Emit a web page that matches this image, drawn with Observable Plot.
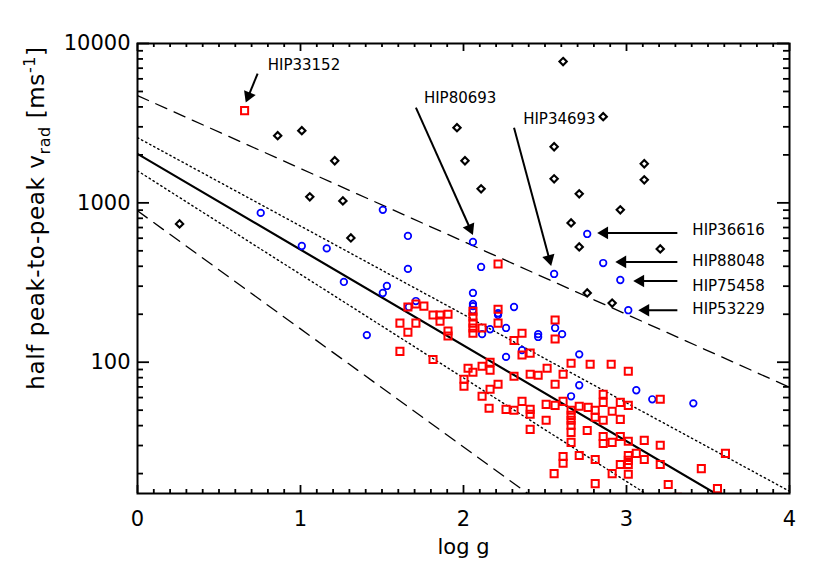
<!DOCTYPE html>
<html><head><meta charset="utf-8">
<script src="https://cdn.jsdelivr.net/npm/d3@7"></script>
<script src="https://cdn.jsdelivr.net/npm/@observablehq/plot@0.6"></script>
<style>body{margin:0;background:#fff;} #chart{width:830px;height:581px;}</style>
</head><body><div id="chart"></div>
<script>
// ---- data (log g, half peak-to-peak v_rad in m/s) ----
const diamondLogg = [0.258,0.860,1.008,1.210,1.057,1.260,1.309,1.960,2.009,2.108,2.611,2.857,2.556,2.556,2.710,3.109,3.109,2.962,2.660,2.710,3.207,2.759,2.912];
const diamondV    = [738,2639,2837,1837,1091,1029,602,2963,1837,1225,7707,3474,2250,1416,1139,1759,1395,904,748,529,514,272,235];

const circleLogg = [0.756,1.008,1.161,1.266,1.505,1.659,1.659,1.530,1.505,1.407,1.708,1.665,2.058,2.108,2.556,2.759,2.857,2.962,3.011,
  2.058,2.058,2.058,2.058,2.212,2.212,2.310,2.163,2.114,2.261,2.458,2.458,2.562,2.605,2.359,2.261,2.710,2.710,2.660,3.060,3.158,3.410];
const circleV    = [865,536,518,319,904,620,385,301,272,148,242,222,568,396,358,638,419,328,212,
  272,232,225,212,203,198,222,161,150,164,150,144,164,150,119,108,112,71.7,61.1,66.7,58.5,55.2];

const squareLogg = [0.657,2.212,1.610,1.659,1.708,1.610,1.813,1.659,1.708,1.757,1.813,1.856,1.905,1.856,1.905,1.905,
  2.058,2.058,2.058,2.058,2.058,2.114,2.212,2.212,2.310,2.359,2.359,2.409,2.562,2.562,
  2.163,2.114,2.163,2.028,2.058,2.003,2.003,2.212,2.163,2.114,2.310,2.409,2.458,2.513,2.562,2.611,2.660,2.777,2.906,3.011,
  2.157,2.261,2.310,2.359,2.409,2.409,2.507,2.562,2.507,2.409,2.611,2.660,2.660,2.660,2.660,2.660,2.660,
  2.710,2.765,2.808,2.808,2.857,2.857,2.857,2.912,2.962,2.962,3.011,3.207,
  2.759,2.857,2.857,2.912,2.962,3.011,3.109,3.207,3.607,
  2.611,2.611,2.710,2.808,2.962,3.011,3.011,3.011,3.060,3.109,3.207,
  2.556,2.912,3.011,2.808,3.256,3.459,3.558,3.312];
const squareV    = [3789,413,176,154,176,117,104,222,232,225,198,198,200,181,157,146,
  209,192,176,164,152,164,215,176,137,152,111,114,184,140,
  100,94.4,89.1,91.7,86.5,78.2,70.7,72.7,67.6,61.1,81.6,84.1,82.8,91.7,72.7,84.1,98.6,97.1,97.1,87.8,
  51.4,50.6,49.9,56.8,50.6,47.1,54.4,53.6,43.2,37.9,56.8,49.9,46.4,43.2,40.2,36.3,31.4,
  52.9,52.1,49.9,45.1,62.9,56.0,43.2,49.2,56.0,43.8,53.6,58.5,
  37.3,34.2,30.9,31.4,34.2,31.9,32.3,30.1,26.8,
  25.6,23.2,26.0,24.5,22.8,26.0,24.2,22.8,26.8,24.5,22.8,
  20.0,20.0,19.8,17.3,17.1,21.5,16.1,14.2];

// fit lines: values at log g = 0 and log g = 4
const fitLogg     = [0, 4];
const fitMain     = [2030, 8.0];
const fitUpperDot = [2565, 15.5];
const fitLowerDot = [1589, 4.0];
const fitUpperDash= [4710, 69.6];
const fitLowerDash= [891, 0.97];

// annotations
const annNames  = ["HIP33152","HIP80693","HIP34693","HIP36616","HIP88048","HIP75458","HIP53229"];
const annLabelX = [0.799,1.757,2.366,3.404,3.404,3.404,3.404];
const annLabelY = [7272,4508,3327,676,432,301,215];
const annFromX  = [0.737,1.708,2.310,3.312,3.312,3.312,3.312];
const annFromY  = [6476,3959,2963,648,426,323,212];
const annToX    = [0.664,2.058,2.538,2.820,2.931,3.041,3.072];
const annToY    = [4255,629,402,648,426,323,212];

// axes
const xTickLabels = [0,1,2,3,4];
const yTickLabels = [100,1000,10000];

// ---- layout ----
const W = 830, H = 581, mL = 137, mR = 41, mT = 43, mB = 88;
const plotW = W - mL - mR, plotH = H - mT - mB;
const xDomain = [0, 4], yDomain = [15, 10000];

const xs = Plot.scale({x: {domain: xDomain, range: [mL, W - mR]}});
const ys = Plot.scale({y: {type: "log", domain: yDomain, range: [H - mB, mT]}});

const toRows = (xa, ya) => xa.map((x, i) => ({x, y: ya[i]}));
const diamonds = toRows(diamondLogg, diamondV);
const circles = toRows(circleLogg, circleV);
const squares = toRows(squareLogg, squareV);

const arrows = annNames.map((n, i) => {
  const px1 = xs.apply(annFromX[i]), py1 = ys.apply(annFromY[i]);
  const px2 = xs.apply(annToX[i]), py2 = ys.apply(annToY[i]);
  const th = Math.atan2(py2 - py1, px2 - px1);
  const s = 7.3;
  const cx = px2 - s * Math.cos(th), cy = py2 - s * Math.sin(th);
  return {name: n, x1: annFromX[i], y1: annFromY[i], hx: xs.invert(cx), hy: ys.invert(cy),
          rot: th * 180 / Math.PI + 90, lx: annLabelX[i], ly: annLabelY[i]};
});

const xMinor = d3.range(0, 41).map(i => i / 10).filter(v => !xTickLabels.includes(v));
const yMinor = [];
for (const d of [10, 100, 1000]) for (let k = 2; k <= 9; k++) { const v = k * d; if (v >= yDomain[0] && v <= yDomain[1]) yMinor.push(v); }

const lineStyle = (vals, o) => Plot.line(toRows(fitLogg, vals), {x: "x", y: "y", stroke: "black", clip: true, ...o});

const chart = Plot.plot({
  width: W, height: H,
  marginLeft: mL, marginRight: mR, marginTop: mT, marginBottom: mB,
  style: {fontFamily: "DejaVu Sans, sans-serif", background: "white", color: "black"},
  x: {domain: xDomain},
  y: {type: "log", domain: yDomain},
  marks: [
    lineStyle(fitUpperDash, {strokeWidth: 1.3, strokeDasharray: "12,8"}),
    lineStyle(fitLowerDash, {strokeWidth: 1.3, strokeDasharray: "12,8"}),
    lineStyle(fitUpperDot, {strokeWidth: 1.4, strokeDasharray: "1.4,3.2"}),
    lineStyle(fitLowerDot, {strokeWidth: 1.4, strokeDasharray: "1.4,3.2"}),
    lineStyle(fitMain, {strokeWidth: 2.2}),
    Plot.dot(circles, {x: "x", y: "y", r: 3.3, fill: "none", stroke: "#0000ff", strokeWidth: 1.7, clip: true}),
    Plot.dot(squares, {x: "x", y: "y", symbol: "square", r: 4, fill: "none", stroke: "#ff0000", strokeWidth: 2, clip: true}),
    Plot.dot(diamonds, {x: "x", y: "y", symbol: "diamond2", r: 3.3, fill: "none", stroke: "black", strokeWidth: 2.1, clip: true}),
    Plot.link(arrows, {x1: "x1", y1: "y1", x2: "hx", y2: "hy", stroke: "black", strokeWidth: 2}),
    Plot.dot(arrows, {x: "hx", y: "hy", symbol: "triangle2", r: 6, fill: "black", stroke: "none", rotate: "rot"}),
    Plot.text(arrows, {x: "lx", y: "ly", text: "name", textAnchor: "start", fontSize: 15, fill: "black"}),
    Plot.ruleX(xTickLabels, {x: d => d, insetTop: plotH - 8, strokeWidth: 1.8}),
    Plot.ruleX(xTickLabels, {x: d => d, insetBottom: plotH - 8, strokeWidth: 1.8}),
    Plot.ruleX(xMinor, {x: d => d, insetTop: plotH - 4, strokeWidth: 1.8}),
    Plot.ruleX(xMinor, {x: d => d, insetBottom: plotH - 4, strokeWidth: 1.8}),
    Plot.ruleY(yTickLabels, {y: d => d, insetRight: plotW - 12, strokeWidth: 1.8}),
    Plot.ruleY(yTickLabels, {y: d => d, insetLeft: plotW - 12, strokeWidth: 1.8}),
    Plot.ruleY(yMinor, {y: d => d, insetRight: plotW - 6, strokeWidth: 1.8}),
    Plot.ruleY(yMinor, {y: d => d, insetLeft: plotW - 6, strokeWidth: 1.8}),
    Plot.frame({stroke: "black", strokeWidth: 2}),
    Plot.axisX({ticks: xTickLabels, tickSize: 0, tickPadding: 18, fontSize: 21, label: null, tickFormat: d3.format("d")}),
    Plot.axisY({ticks: yTickLabels, tickSize: 0, tickPadding: 7, fontSize: 21, label: null, tickFormat: d3.format("d")}),
    Plot.text(["log g"], {text: d => d, frameAnchor: "bottom", dy: 60, fontSize: 21, fill: "black"})
  ]
});

document.getElementById("chart").appendChild(chart);

// y-axis title with subscript / superscript
const svg = d3.select(chart);
const t = svg.append("text")
  .attr("transform", "translate(44,218) rotate(-90)")
  .attr("text-anchor", "middle")
  .attr("font-family", "DejaVu Sans, sans-serif")
  .attr("font-size", 23)
  .attr("letter-spacing", 0.6)
  .attr("fill", "black");
t.append("tspan").text("half peak-to-peak v");
t.append("tspan").attr("dy", 6).attr("font-size", 16).text("rad");
t.append("tspan").attr("dy", -6).text(" [ms");
t.append("tspan").attr("dy", -9).attr("font-size", 16).text("-1");
t.append("tspan").attr("dy", 9).text("]");
</script></body></html>
